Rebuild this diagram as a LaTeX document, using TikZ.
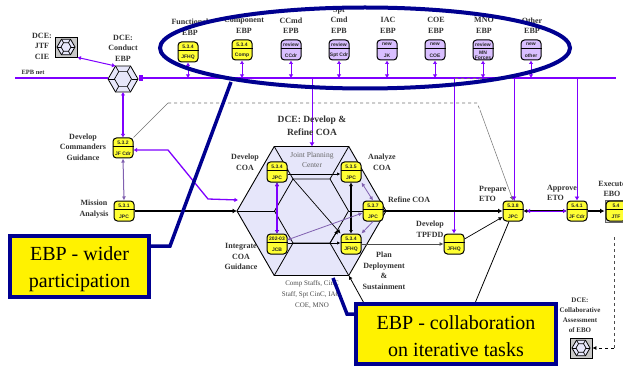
\documentclass[tikz,border=0pt]{standalone}
\usepackage{fontspec}
\setmainfont{Liberation Serif}
\setsansfont{Liberation Sans}
\usetikzlibrary{arrows.meta,shapes.geometric,calc}
\definecolor{pur}{HTML}{7F00FF}
\definecolor{navy}{HTML}{000090}
\definecolor{lav}{HTML}{E6E6FA}
\definecolor{boxy}{HTML}{FFFF33}
\definecolor{boxp}{HTML}{D9BFFF}
\definecolor{gp}{HTML}{8060B0}
\tikzset{
  x=1pt,y=-1pt,
  pbox/.style={draw=black,line width=1pt,rounded corners=3.5pt,minimum width=20pt,minimum height=20pt,inner sep=0pt},
  ptxt/.style={font=\sffamily\bfseries\fontsize{5}{5}\selectfont,inner sep=0pt,align=center,text=black!85},
  lbl/.style={font=\bfseries\fontsize{8}{10.5}\selectfont,align=center,inner sep=0pt,text=black!80},
  lbls/.style={font=\bfseries\fontsize{7}{10}\selectfont,align=center,inner sep=0pt,text=black!80},
  hexa/.style={regular polygon,regular polygon sides=6,draw=black,inner sep=0pt,outer sep=0pt},
  netline/.style={draw=pur,line width=1.2pt},
  parr/.style={draw=pur,line width=1pt,-{Latex[length=4pt,width=5pt]}},
  pdarr/.style={draw=pur,line width=1pt,{Latex[length=3.5pt,width=4.5pt]}-{Latex[length=3.5pt,width=4.5pt]}},
  barr/.style={draw=black,line width=1pt,-{Latex[length=4.5pt,width=5pt]}},
  bdarr/.style={draw=black,line width=1pt,{Latex[length=3.5pt,width=4pt]}-{Latex[length=3.5pt,width=4pt]}},
  gdarr/.style={draw=gp,line width=.8pt,{Latex[length=4pt,width=4pt]}-{Latex[length=4pt,width=4pt]}},
  garr/.style={draw=gp,line width=.8pt,-{Latex[length=4pt,width=4pt]}},
  callout/.style={draw=navy,line width=3.5pt,fill=yellow,inner sep=0pt},
  ctext/.style={align=center,inner sep=0pt,font=\fontsize{20}{27}\selectfont,text=black},
  lead/.style={draw=navy,line width=3.5pt},
  iconb/.style={draw=black,line width=.8pt,fill=black!22,minimum width=22pt,minimum height=20pt,inner sep=0pt},
}
\newcommand{\procbox}[6]{%
  \node[pbox,fill=#4] (#1) at (#2,#3) {};
  \draw[line width=.8pt] ([yshift=2pt]#1.west) -- ([yshift=2pt]#1.east);
  \node[ptxt] (#1t) at ([yshift=5.5pt]#1.center) {#5};
  \node[ptxt] (#1b) at ([yshift=-5.5pt]#1.center) {#6};
}
\newcommand{\hexicon}[5]{% name, x, y, outer size, inner size
  \node[hexa,fill=lav,line width=.8pt,minimum size=#4pt] (#1) at (#2,#3) {};
  \node[hexa,line width=.7pt,minimum size=#5pt] (#1i) at (#2,#3) {};
  \foreach \k in {1,...,6}{\draw[line width=.7pt] (#1.corner \k) -- (#1i.corner \k);}
}
\begin{document}
\begin{tikzpicture}
\useasboundingbox (0,0) rectangle (623,366);
\clip (0,0) rectangle (623,366);
\fill[white] (0,0) rectangle (623,366);

% EPB net
\coordinate (netL) at (15,78);
\coordinate (netT) at (140,78);
\coordinate (netC) at (312,78);
\coordinate (netM) at (577,78);
\coordinate (netR) at (616,78);

% dashed planning frame
\coordinate (fr1) at (168,103);
\coordinate (fr2) at (477,103);
\coordinate (fr3) at (480,110);
\coordinate (frT) at (455,78);
\coordinate (frV) at (514,78);

% central hexagon
\node[hexa,fill=lav,line width=.9pt,minimum size=149pt] (coa) at (311.5,211) {};
\node[hexa,line width=.8pt,minimum size=74pt] (coai) at (311.5,211) {};
\foreach \k in {1,...,6}{\draw[line width=.8pt] (coa.corner \k) -- (coai.corner \k);}

% boxes
\procbox{bfun}{188}{52}{boxy}{5.3.4}{JFHQ}
\procbox{bcom}{242}{50}{boxy}{5.3.4}{Comp}
\procbox{bccd}{291}{50}{boxp}{review}{CCdr}
\procbox{bspt}{339}{50}{boxp}{review}{Spt Cdr}
\procbox{biac}{387}{50}{boxp}{new}{JK}
\procbox{bcoe}{435}{50}{boxp}{new}{COE}
\procbox{bmno}{483}{50}{boxp}{review}{MN\\Forces}
\procbox{both}{531}{50}{boxp}{new}{other}

\procbox{bcg}{123}{148}{boxy}{5.3.2}{JF Cdr}
\procbox{bma}{124}{211}{boxy}{5.3.1}{JPC}
\procbox{bdev}{277}{172}{boxy}{5.3.4}{JPC}
\procbox{bana}{351}{172}{boxy}{5.3.5}{JPC}
\procbox{bref}{373}{211}{boxy}{5.3.7}{JPC}
\procbox{bpln}{351}{244}{boxy}{5.3.4}{JFHQ}
\procbox{bint}{277}{244}{boxy}{202-03}{JCB}
\procbox{btp}{454}{244}{boxy}{}{JFHQ}
\procbox{bpre}{513}{211}{boxy}{5.3.8}{JPC}
\procbox{bapp}{577}{211}{boxy}{5.4.1}{JF Cdr}
\node[draw=black!60,line width=1pt,fill=black!15,minimum width=26pt,minimum height=22pt,inner sep=0pt] (bexf) at (618,211) {};
\procbox{bexe}{616}{211}{boxy}{5.4}{JTF}

% icons
\hexicon{hcon}{123}{79}{30}{17}
\node[iconb] (icj) at (66,47) {};
\hexicon{hcie}{66}{47}{18}{10}
\node[iconb] (ica) at (581,348) {};
\hexicon{hcol}{581}{348}{18}{10}

% net
\draw[netline] (netL) -- (hcon.corner 3 |- netL);
\draw[draw=pur,line width=2pt] (netT) -- (netM);
\draw[netline] (netM) -- (netR);
\fill[pur] (139,75.5) rectangle (143,81);

% grey thin and dashed
\draw[black!55,line width=.5pt] (bcg.north east) -- (fr1);
\draw[black!55,line width=.6pt,dashed] (fr1) -- (fr2) -- (fr3);
\draw[black!55,line width=.5pt,-{Latex[length=4pt,width=4pt]}] (fr3) -- (bpre.north);
\draw[black!55,line width=.8pt,dashed] (frT) -- (frV) -- (bpre.north -| frV);

% bus connectors
\foreach \b in {bfun,bcom,bccd,bspt,biac,bcoe,bmno,both}{
  \draw[pdarr] (\b.south) -- (\b.south |- netL);
}
\draw[parr] (netC) -- (coa.north -| netC);
\draw[parr,line width=.9pt] (btp.north |- netL) -- (btp.north);
\draw[parr,line width=.9pt] (frV) -- (bpre.north -| frV);
\draw[parr,line width=.9pt] (netM) -- (bapp.north);
\draw[pdarr,line width=1.4pt] (hcon.south) -- (bcg.north);
\draw[pdarr] (icj.south east) -- (hcon.corner 2);

% process flow
\draw[gdarr,line width=1pt] (bcg.south) -- (bma.north);
\draw[barr,line width=1.4pt] (bma.east) -- (coa.corner 3);
\coordinate (cg1) at (168,150);
\coordinate (cg2) at (208,199);
\coordinate (cg3) at (238,200);
\draw[pdarr,line width=1.3pt] (bcg.east |- cg1) -- (cg1) -- (cg2) -- (cg3);
\draw[barr,line width=1.4pt] (bref.east) -- (bpre.west);
\draw[bdarr,line width=1.3pt] (bpre.east) -- (bapp.west);
\draw[pdarr,line width=.8pt] ([xshift=3pt]bpre.east) -- (bapp.west);
\draw[barr,line width=1.2pt] (bapp.east) -- (bexf.west);
\draw[black!70,line width=.7pt,-{Latex[length=4pt,width=4pt]}] (coa.corner 1 |- bpln) ++(12,0) -- (btp.west);
\draw[black,line width=.7pt,-{Latex[length=4pt,width=4pt]}] (btp.east) ++(0,-5) -- ([yshift=-6pt]bpre.west);

% inside the hexagon
\draw[bdarr,line width=1.3pt] (bdev.south) -- (bint.north);
\draw[pdarr,line width=1.1pt] (bdev.south) -- (bint.north);
\draw[bdarr,line width=1.2pt] (bana.south) -- (bpln.north);
\draw[black,line width=.8pt,-{Latex[length=3.5pt,width=3.5pt]}] ([yshift=-2pt]bdev.east) -- ([yshift=-2pt]bana.west);
\draw[black,line width=.8pt,-{Latex[length=3.5pt,width=3.5pt]}] ([yshift=1pt]bint.east) -- ([yshift=1pt]bpln.west);
\draw[black,line width=.7pt,-{Latex[length=4pt,width=4pt]}] (coai.corner 2) -- (bpln.north west);
\coordinate (up) at (338,230);
\draw[black,line width=.7pt,-{Latex[length=4pt,width=4pt]}] (coai.corner 5) -- (up);
\draw[gdarr] (bana.south east) -- (bref.north);
\draw[garr] (bref.south) -- (bpln.north east);
\coordinate (jcbin) at (287,240);
\draw[gdarr] ([yshift=-2pt]bref.west) -- (jcbin);

% long line to the lower right corner of the hexagon
\coordinate (lg) at (468,320);
\coordinate (lh) at (365,305);
\draw[black,line width=.8pt] ([xshift=-4pt]bpre.south) -- (lg);
\draw[black,line width=.8pt,-{Latex[length=4pt,width=4pt]}] (lh) -- (coa.corner 5);

% lower dashed link
\coordinate (dd1) at (614,237);
\coordinate (dd2) at (614,348);
\draw[black!70,line width=.7pt,dashed] (dd1) -- (dd2);
\draw[black,line width=.7pt,dashed,-{Latex[length=4pt,width=4pt]}] (dd2) -- (ica.east);

% labels
\node[lbl] (lcie) at (42,46) {DCE:\\JTF\\CIE};
\node[lbl] (lcon) at (123,48) {DCE:\\Conduct\\EBP};
\node[font=\bfseries\fontsize{6.5}{8}\selectfont,inner sep=0pt,text=black!80] (lnet) at (33,72) {EPB net};
\node[lbl] (lfun) at (190,27) {Functional\\EBP};
\node[lbl] (lcom) at (244,25.5) {Component\\EBP};
\node[lbl] (lccd) at (291,25.5) {CCmd\\EPB};
\node[lbl] (lspt) at (339,20) {Spt\\Cmd\\EPB};
\node[lbl] (liac) at (388,25.5) {IAC\\EBP};
\node[lbl] (lcoe) at (436,25.5) {COE\\EBP};
\node[lbl] (lmno) at (484,25.5) {MNO\\EBP};
\node[lbl] (loth) at (532,25.5) {Other\\EBP};
\node[lbl] (lcg) at (83,147) {Develop\\Commanders\\Guidance};
\node[lbl] (lma) at (94,209) {Mission\\Analysis};
\node[font=\bfseries\fontsize{9.5}{12.5}\selectfont,align=center,inner sep=0pt,text=black!80] (ldr) at (312,126) {DCE: Develop \&\\Refine COA};
\node[font=\fontsize{7.5}{10}\selectfont,align=center,inner sep=0pt,text=black!60] (ljp) at (312,159.5) {Joint Planning\\Center};
\node[lbl] (ldc) at (245,162.5) {Develop\\COA};
\node[lbl] (lan) at (382,162.5) {Analyze\\COA};
\node[lbl,anchor=west] (lrc) at (388,200) {Refine COA};
\node[lbl] (lic) at (241,256.5) {Integrate\\COA\\Guidance};
\node[lbl] (lpl) at (384,271) {Plan\\Deployment\\\&\\Sustainment};
\node[font=\fontsize{7}{11}\selectfont,align=center,inner sep=0pt,text=black!70] (lst) at (312,295) {Comp Staffs, CinC\\Staff, Spt CinC, IAC,\\COE, MNO};
\node[lbl] (ltp) at (430,229) {Develop\\TPFDD};
\node[lbl,align=left,anchor=west] (lpr) at (479,194) {Prepare\\ETO};
\node[lbl,align=left,anchor=west] (lap) at (547,193) {Approve\\ETO};
\node[lbl] (lex) at (612,189) {Execute\\EBO};
\node[lbls] (lca) at (580,315.5) {DCE:\\Collaborative\\Assessment\\of EBO};

% highlight
\node[draw=navy,line width=4pt,ellipse,minimum width=410pt,minimum height=81pt,inner sep=0pt] (hl) at (365,48) {};

% callouts
\node[callout,minimum width=139pt,minimum height=61pt] (c1) at (79.5,266.5) {};
\node[ctext] (c1t) at (79.5,269) {EBP - wider\\participation};
\node[callout,minimum width=200pt,minimum height=60pt] (c2) at (456,334) {};
\node[ctext] (c2t) at (456,336) {EBP - collaboration\\on iterative tasks};
\coordinate (l1a) at (170,246);
\coordinate (l1b) at (231,82);
\coordinate (l2a) at (333,278);
\coordinate (l2b) at (347,314);
\draw[lead,line join=miter] (c1.east |- l1a) -- (l1a) -- (l1b);
\draw[lead,line join=miter] (l2a) -- (l2b) -- (c2.west |- l2b);
\end{tikzpicture}
\end{document}
